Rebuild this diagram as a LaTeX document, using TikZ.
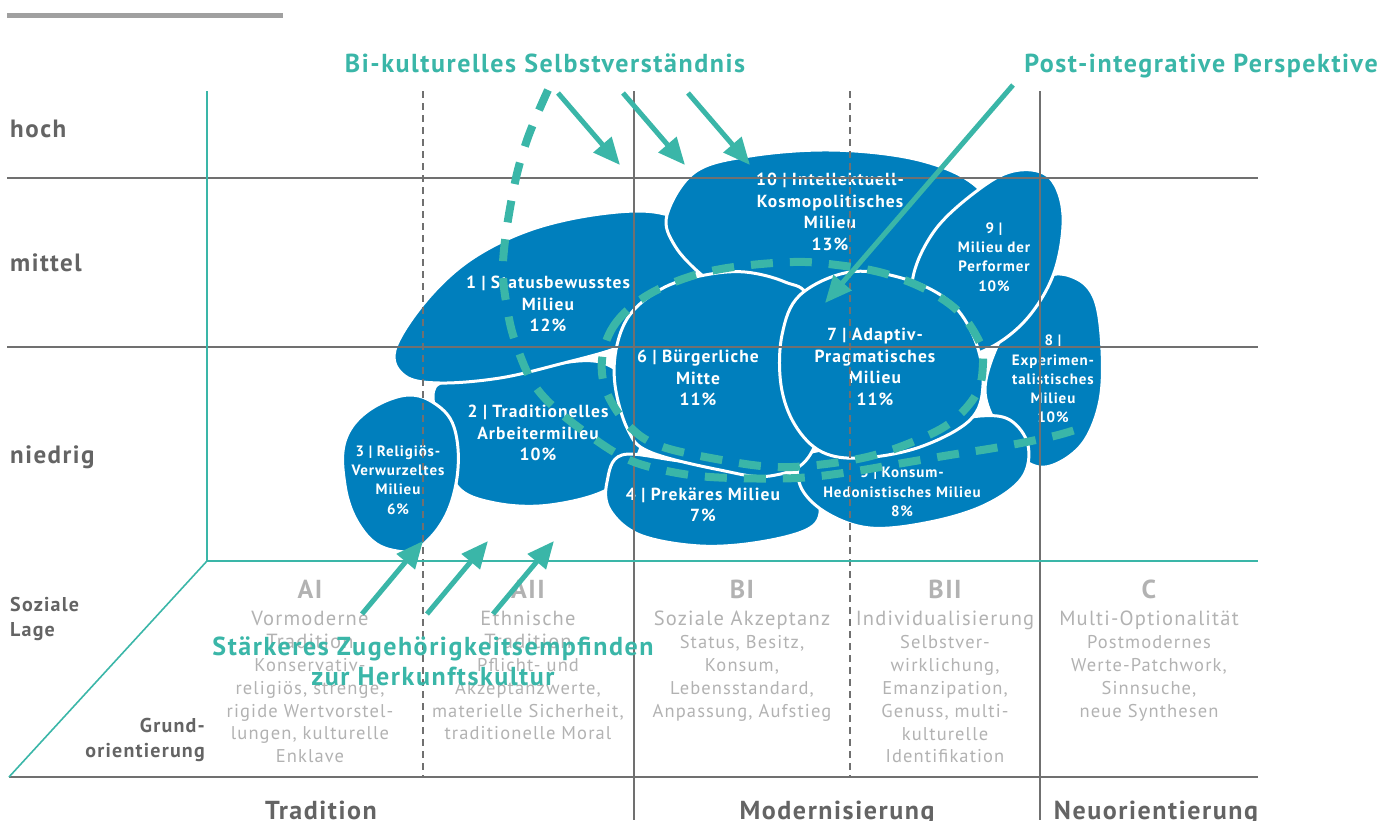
\documentclass[tikz,border=0pt]{standalone}
\usepackage{fontspec}
\setmainfont{PT Sans}[LetterSpace=6]
\usetikzlibrary{arrows.meta}

\definecolor{milieublue}{RGB}{0,127,189}
\definecolor{sinusteal}{RGB}{58,182,168}
\definecolor{gridgrey}{RGB}{112,112,112}
\definecolor{labelgrey}{RGB}{100,100,100}
\definecolor{palegrey}{RGB}{178,178,178}
\definecolor{bargrey}{RGB}{160,160,160}

\newcommand{\fsz}[2]{\fontsize{#1}{#2}\selectfont}

\begin{document}
\begin{tikzpicture}[x=1pt, y=-1pt,
    blob/.style={fill=milieublue, draw=white, line width=3pt},
    milieu/.style={text=white, align=center, inner sep=0pt, font=\bfseries\fsz{17.5}{21.5}},
    smallmilieu/.style={milieu, font=\bfseries\fsz{15}{19.2}},
    gridline/.style={gridgrey, line width=2pt},
    gridgap/.style={gridgrey, line width=1.6pt, dash pattern=on 7pt off 5pt},
    axis/.style={sinusteal, line width=1.6pt},
    pointer/.style={sinusteal, line width=5pt, -{Triangle[length=27pt,width=23pt]}},
    trail/.style={sinusteal, line width=8pt, dash pattern=on 22pt off 17pt},
    rowlab/.style={text=labelgrey, inner sep=0pt, anchor=base west, font=\bfseries\fsz{25}{26}},
    smallrow/.style={text=labelgrey, inner sep=0pt, font=\bfseries\fsz{20}{25.5}, align=left},
    axislab/.style={text=labelgrey, inner sep=0pt, anchor=base, font=\bfseries\fsz{26}{26}},
    column/.style={text=palegrey, inner sep=0pt, anchor=north, align=center, font=\fsz{18.5}{22.9}},
    tealnote/.style={text=sinusteal, inner sep=0pt, anchor=base, font=\bfseries\fsz{26}{30}}
  ]
  \useasboundingbox (0,0) rectangle (1382,820);

  % bar above the figure
  \draw[bargrey, line width=5pt] (7,15) -- (283,15);

  % milieus, back to front
  \path[blob] plot[smooth cycle, tension=0.6] coordinates {(433,398) (448,380) (520,370) (600,362) (640,400) (640,450) (610,488) (550,505) (495,503) (457,486) (447,440)};
  \path[blob] plot[smooth cycle, tension=0.6] coordinates {(395,350) (425,302) (470,260) (530,230) (600,214) (660,213) (700,235) (690,290) (650,330) (617,348) (560,364) (500,378) (440,383) (405,376)};
  \path[blob] plot[smooth cycle, tension=0.7] coordinates {(397,397) (437,405) (457,440) (452,500) (425,543) (397,551) (365,533) (345,485) (350,430)};
  \path[blob] plot[smooth cycle, tension=0.6] coordinates {(667,215) (695,172) (750,156) (830,150) (910,158) (965,178) (985,205) (960,250) (920,290) (860,302) (790,302) (730,292) (703,276) (675,246)};
  \path[blob] plot[smooth cycle, tension=0.6] coordinates {(1045,278) (1075,278) (1095,300) (1102,350) (1100,400) (1085,440) (1060,462) (1035,466) (1010,445) (985,390) (1010,320)};
  \path[blob] plot[smooth cycle, tension=0.6] coordinates {(985,185) (1020,170) (1050,178) (1063,215) (1055,270) (1030,315) (995,345) (960,355) (930,330) (912,285) (935,230)};
  \path[blob] plot[smooth cycle, tension=0.6] coordinates {(622,455) (680,461) (760,470) (805,478) (820,505) (810,528) (760,542) (700,546) (640,535) (610,510) (607,482)};
  \path[blob] plot[smooth cycle, tension=0.6] coordinates {(805,455) (860,445) (940,425) (980,416) (1010,420) (1028,445) (1022,478) (985,505) (930,522) (870,528) (825,512) (800,485)};
  \path[blob] plot[smooth cycle, tension=0.6] coordinates {(617,345) (632,312) (665,287) (705,275) (745,272) (785,282) (810,300) (830,380) (810,455) (770,476) (720,470) (650,452) (628,430) (615,385)};
  \path[blob] plot[smooth cycle, tension=0.6] coordinates {(850,272) (905,279) (950,302) (975,340) (983,385) (970,420) (920,447) (862,458) (822,452) (795,425) (781,385) (782,335) (800,295)};

  \node[milieu] (m1) at (548,304) {1 | Statusbewusstes\\Milieu\\12\%};
  \node[milieu] (m2) at (538,433) {2 | Traditionelles\\Arbeitermilieu\\10\%};
  \node[smallmilieu] (m3) at (398,480) {3 | Religiös-\\Verwurzeltes\\Milieu\\6\%};
  \node[milieu] (m4) at (703,505) {4 | Prekäres Milieu\\7\%};
  \node[smallmilieu] (m5) at (902,492) {5 | Konsum-\\Hedonistisches Milieu\\8\%};
  \node[milieu] (m6) at (698,378) {6 | Bürgerliche\\Mitte\\11\%};
  \node[milieu] (m7) at (875,367) {7 | Adaptiv-\\Pragmatisches\\Milieu\\11\%};
  \node[smallmilieu] (m8) at (1053,379) {8 |\\Experimen-\\talistisches\\Milieu\\10\%};
  \node[smallmilieu] (m9) at (994,257) {9 |\\Milieu der\\Performer\\10\%};
  \node[milieu] (m10) at (830,212) {10 | Intellektuell-\\Kosmopolitisches\\Milieu\\13\%};

  % grid
  \draw[gridline] (7,178) -- (1258,178);
  \draw[gridline] (7,347) -- (1258,347);
  \draw[gridline] (9,777) -- (1258,777);
  \draw[gridline] (634,91) -- (634,820);
  \draw[gridline] (1040,91) -- (1040,820);
  \draw[gridgap] (423,91) -- (423,777);
  \draw[gridgap] (850,91) -- (850,777);
  \draw[axis] (207,91) -- (207,561) -- (1258,561);
  \draw[axis] (207,561) -- (9,777);

  % axis labels
  \node[rowlab] (hoch) at (10,137) {hoch};
  \node[rowlab] (mittel) at (10,271) {mittel};
  \node[rowlab] (niedrig) at (10,463) {niedrig};
  \node[smallrow, anchor=north west] (lage) at (10,597) {Soziale\\Lage};
  \node[smallrow, anchor=north east, align=right] (grund) at (205,718) {Grund-\\orientierung};
  \node[axislab] (trad) at (321,819) {Tradition};
  \node[axislab] (modern) at (837,819) {Modernisierung};
  \node[axislab] (neu) at (1156,819) {Neuorientierung};

  % basic orientations
  \node[column] (ai) at (310,580) {{\fsz{26}{26}\bfseries AI}\\[4pt]
    {\fsz{20.5}{22.9}Vormoderne}\\{\fsz{20.5}{22.9}Tradition}\\Konservativ-\\religiös, strenge,\\rigide Wertvorstel-\\lungen, kulturelle\\Enklave};
  \node[column] (aii) at (528,580) {{\fsz{26}{26}\bfseries AII}\\[4pt]
    {\fsz{20.5}{22.9}Ethnische}\\{\fsz{20.5}{22.9}Tradition}\\Pflicht- und\\Akzeptanzwerte,\\materielle Sicherheit,\\traditionelle Moral};
  \node[column] (bi) at (742,580) {{\fsz{26}{26}\bfseries BI}\\[4pt]
    {\fsz{20.5}{22.9}Soziale Akzeptanz}\\Status, Besitz,\\Konsum,\\Lebensstandard,\\Anpassung, Aufstieg};
  \node[column] (bii) at (945,580) {{\fsz{26}{26}\bfseries BII}\\[4pt]
    {\fsz{20.5}{22.9}Individualisierung}\\Selbstver-\\wirklichung,\\Emanzipation,\\Genuss, multi-\\kulturelle\\Identifikation};
  \node[column] (c) at (1149,580) {{\fsz{26}{26}\bfseries C}\\[4pt]
    {\fsz{20.5}{22.9}Multi-Optionalität}\\Postmodernes\\Werte-Patchwork,\\Sinnsuche,\\neue Synthesen};

  % dashed trails
  \draw[trail] plot[smooth, tension=0.6] coordinates {(548,90) (527,140) (513,192) (503,263) (508,313) (517,347) (533,383) (557,410) (593,438) (623,457) (650,467) (690,475) (733,478) (797,478) (850,472) (903,463) (950,455) (1000,447) (1050,437) (1075,430)};
  \draw[trail] plot[smooth cycle, tension=0.6] coordinates {(602,360) (613,327) (640,300) (680,280) (727,268) (793,262) (837,265) (883,273) (927,290) (960,313) (980,343) (983,363) (977,393) (950,423) (910,443) (867,457) (817,465) (777,467) (733,462) (663,447) (630,427) (607,393)};

  % notes and arrows
  \node[tealnote] (bikult) at (545,72) {Bi-kulturelles Selbstverständnis};
  \node[tealnote] (postint) at (1201,72) {Post-integrative Perspektive};
  \node[tealnote] (herkunft) at (433,655) {Stärkeres Zugehörigkeitsempfinden};
  \node[tealnote] (herkunft2) at (433,685) {zur Herkunftskultur};
  \foreach \x in {558,623,688}
    \draw[pointer] (\x,93) -- ++(62,72);
  \draw[pointer] (1013,85) -- (825,303);
  \foreach \x in {362,427,493}
    \draw[pointer] (\x,614) -- ++(61,-73);
\end{tikzpicture}
\end{document}
